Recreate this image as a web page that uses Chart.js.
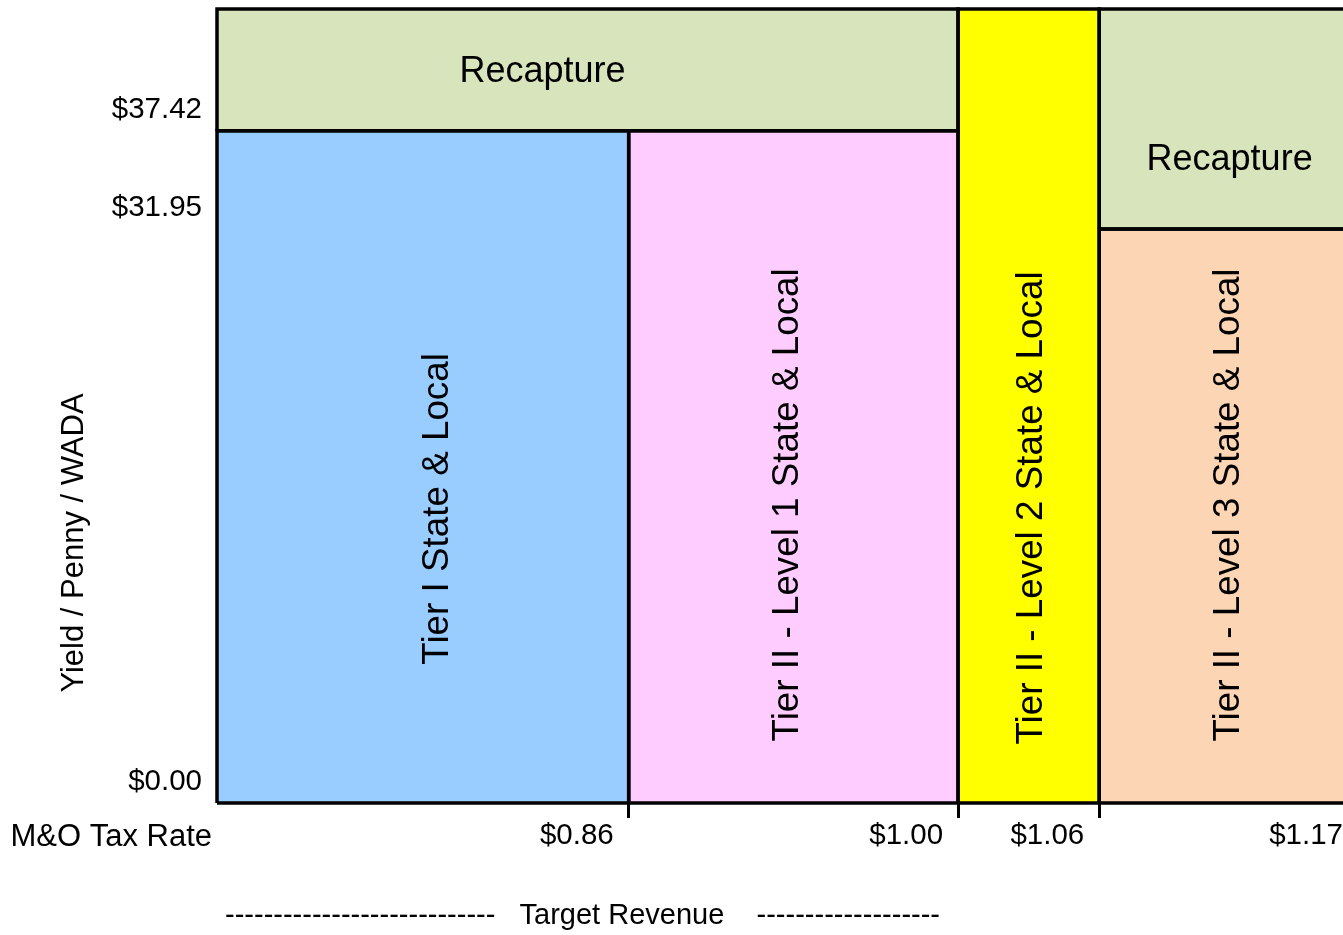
<!DOCTYPE html>
<html>
<head>
<meta charset="utf-8">
<title>Yield per penny by tier</title>
<script src="https://cdn.jsdelivr.net/npm/chart.js@4.4.1/dist/chart.umd.min.js"></script>
<style>
  html, body { margin: 0; padding: 0; overflow: hidden; background: #fff; }
  canvas { display: block; }
</style>
</head>
<body>
<canvas id="tierChart" width="1360" height="935"></canvas>
<script>
// M&O tax rate breakpoints and yield per penny levels
const taxRates = [0.86, 1.00, 1.06, 1.17];
const yieldLevels = [0, 31.95, 37.42];

// axis extents
const rateMin = 0.685;
const yieldMax = 44.2;

// funding regions (rate range x yield range)
const regionNames = [
  'Tier I State & Local',
  'Tier II - Level 1 State & Local',
  'Recapture',
  'Tier II - Level 2 State & Local',
  'Tier II - Level 3 State & Local',
  'Recapture'
];
const rateFrom = [rateMin, 0.86, rateMin, 1.00, 1.06, 1.06];
const rateTo = [0.86, 1.00, 1.00, 1.06, 1.17, 1.17];
const yieldFrom = [0, 0, 37.42, 0, 0, 31.95];
const yieldTo = [37.42, 37.42, yieldMax, yieldMax, 31.95, yieldMax];

const regionColors = ['#99CCFF', '#FFCCFF', '#D8E4BC', '#FFFF00', '#FCD5B4', '#D8E4BC'];
// label nudge [dx, dy] from the region centre, and text direction
const labelShift = [[15, 42], [-6, 38], [-45, 2], [3, 102], [0, -11], [1, 41]];
const labelVertical = [true, true, false, true, true, false];

const FONT = '"Liberation Sans", Arial, Helvetica, sans-serif';

// each region is a closed outline filled inside
const datasets = regionNames.map((name, i) => ({
  label: name,
  data: [
    { x: rateFrom[i], y: yieldFrom[i] },
    { x: rateTo[i], y: yieldFrom[i] },
    { x: rateTo[i], y: yieldTo[i] },
    { x: rateFrom[i], y: yieldTo[i] },
    { x: rateFrom[i], y: yieldFrom[i] }
  ],
  showLine: true,
  fill: 'shape',
  backgroundColor: regionColors[i],
  borderColor: '#000',
  borderWidth: 3.5,
  pointRadius: 0,
  pointHoverRadius: 0,
  tension: 0,
  clip: false
}));

// text drawn on top of the regions
const regionText = {
  id: 'regionText',
  afterDatasetsDraw(chart) {
    const { ctx, chartArea, scales: { x, y } } = chart;
    ctx.save();
    ctx.fillStyle = '#000';
    ctx.textBaseline = 'middle';
    ctx.textAlign = 'center';
    regionNames.forEach((name, i) => {
      const cx = (x.getPixelForValue(rateFrom[i]) + x.getPixelForValue(rateTo[i])) / 2 + labelShift[i][0];
      const cy = (y.getPixelForValue(yieldFrom[i]) + y.getPixelForValue(yieldTo[i])) / 2 + labelShift[i][1];
      ctx.save();
      ctx.translate(cx, cy);
      if (labelVertical[i]) {
        ctx.rotate(-Math.PI / 2);
        ctx.font = '36.8px ' + FONT;
      } else {
        ctx.font = '36px ' + FONT;
      }
      ctx.fillText(name, 0, 0);
      ctx.restore();
    });

    // y axis title
    ctx.font = '31px ' + FONT;
    ctx.save();
    ctx.translate(74, 543);
    ctx.rotate(-Math.PI / 2);
    ctx.fillText('Yield / Penny / WADA', 0, 0);
    ctx.restore();

    // x axis caption, left of the rate labels
    ctx.font = '31px ' + FONT;
    ctx.textAlign = 'right';
    ctx.fillText('M&O Tax Rate', chartArea.left - 5, 837);

    ctx.font = '29px ' + FONT;
    ctx.textAlign = 'left';
    ctx.fillText('----------------------------   Target Revenue    -------------------', 225, 916);
    ctx.restore();
  }
};

new Chart(document.getElementById('tierChart').getContext('2d'), {
  type: 'scatter',
  data: { datasets },
  options: {
    responsive: false,
    animation: false,
    events: [],
    layout: { padding: { top: 9, right: 2, left: 0, bottom: 0 } },
    plugins: {
      legend: { display: false },
      tooltip: { enabled: false },
      filler: { drawTime: 'beforeDatasetsDraw' }
    },
    scales: {
      x: {
        type: 'linear',
        min: rateMin,
        max: 1.17,
        border: { display: false },
        grid: {
          drawOnChartArea: false,
          drawTicks: true,
          tickLength: 15,
          tickWidth: 3,
          tickColor: '#000'
        },
        afterBuildTicks: (scale) => {
          scale.ticks = taxRates.map(v => ({ value: v }));
        },
        afterFit: (scale) => {
          scale.height = 132;
          scale.paddingLeft = 0;
          scale.paddingRight = 0;
        },
        ticks: {
          align: 'end',
          labelOffset: -15,
          padding: 0,
          maxRotation: 0,
          autoSkip: false,
          color: '#000',
          font: { family: FONT, size: 29.5 },
          callback: (v) => '$' + Number(v).toFixed(2)
        }
      },
      y: {
        type: 'linear',
        min: 0,
        max: yieldMax,
        border: { display: false },
        grid: { display: false, drawTicks: false },
        afterBuildTicks: (scale) => {
          scale.ticks = yieldLevels.map(v => ({ value: v }));
        },
        afterFit: (scale) => {
          scale.width = 217;
          scale.paddingTop = 0;
          scale.paddingBottom = 0;
        },
        ticks: {
          padding: 15,
          labelOffset: -21,
          autoSkip: false,
          color: '#000',
          font: { family: FONT, size: 29.5 },
          callback: (v) => '$' + Number(v).toFixed(2)
        }
      }
    }
  },
  plugins: [regionText]
});
</script>
</body>
</html>
